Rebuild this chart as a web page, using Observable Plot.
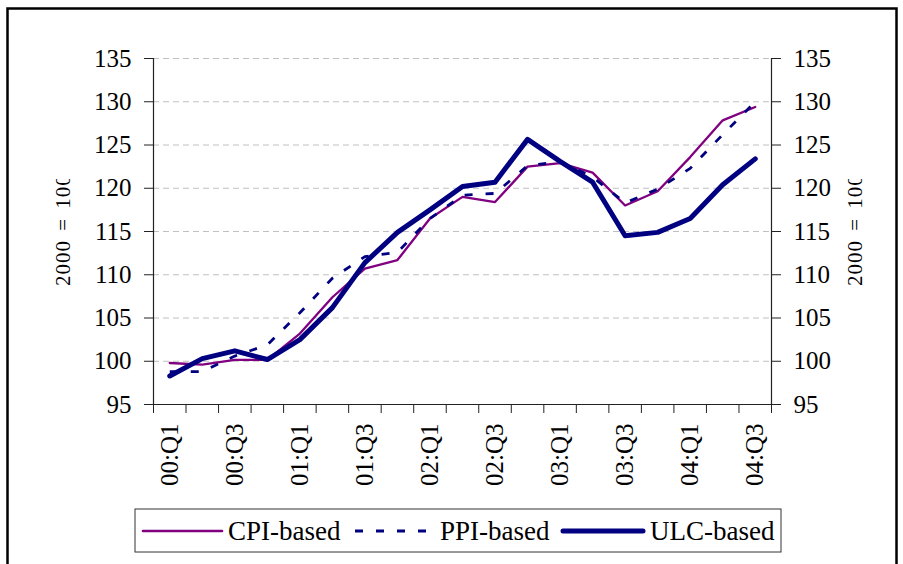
<!DOCTYPE html>
<html><head><meta charset="utf-8">
<script src="https://cdn.jsdelivr.net/npm/d3@7"></script>
<script src="https://cdn.jsdelivr.net/npm/@observablehq/plot@0.6"></script>
<style>
html,body{margin:0;padding:0;background:#fff;}
#chart{width:903px;height:564px;overflow:hidden;}
</style></head><body><div id="chart"></div>
<script>
const quarters = ["00:Q1","00:Q2","00:Q3","00:Q4","01:Q1","01:Q2","01:Q3","01:Q4","02:Q1","02:Q2","02:Q3","02:Q4","03:Q1","03:Q2","03:Q3","03:Q4","04:Q1","04:Q2","04:Q3"];
const cpi = [99.8, 99.6, 100.15, 100.15, 103.2, 107.4, 110.7, 111.7, 116.5, 119.0, 118.4, 122.5, 122.9, 121.8, 118.0, 119.65, 123.6, 127.85, 129.4];
const ppi = [98.8, 98.8, 100.6, 101.9, 105.6, 109.6, 112.1, 112.6, 116.5, 119.2, 119.4, 122.6, 123.1, 121.3, 118.3, 119.9, 122.3, 126.2, 130.0];
const ulc = [98.3, 100.3, 101.2, 100.2, 102.5, 106.2, 111.4, 114.9, 117.5, 120.2, 120.7, 125.65, 123.1, 120.7, 114.5, 114.9, 116.5, 120.4, 123.4];
const yTicks = [95, 100, 105, 110, 115, 120, 125, 130, 135];
const seriesNames = ["CPI-based", "PPI-based", "ULC-based"];
const seriesColors = ["#800080", "#000080", "#000080"];
const yTitle = "2000 = 100";

const toRows = (vals, s) => vals.map((v, i) => ({i, q: quarters[i], s, v}));
const cpiRows = toRows(cpi, seriesNames[0]);
const ppiRows = toRows(ppi, seriesNames[1]);
const ulcRows = toRows(ulc, seriesNames[2]);
const n = quarters.length;
const boundaries = d3.range(n + 1).map(i => i - 0.5);
const labelIdx = d3.range(0, n, 2);
const FONT = "'Liberation Serif', 'Times New Roman', serif";

const svg = Plot.plot({
  width: 903, height: 564,
  marginLeft: 153, marginRight: 132, marginTop: 58, marginBottom: 160,
  style: {fontFamily: FONT, fontSize: "25px", background: "white", color: "black"},
  x: {type: "linear", domain: [-0.5, n - 0.5]},
  y: {domain: [95, 135]},
  marks: [
    Plot.gridY(yTicks.filter(t => t > 95), {stroke: "#c0c0c0", strokeOpacity: 1, strokeDasharray: "6,4", strokeWidth: 1}),
    Plot.ruleY([95], {stroke: "#222", strokeWidth: 1.2}),
    Plot.ruleX([-0.5, n - 0.5], {stroke: "#222", strokeWidth: 1.2}),
    Plot.axisY(yTicks, {anchor: "left", tickSize: 9, tickPadding: 13, label: null, stroke: "#222"}),
    Plot.axisY(yTicks, {anchor: "right", tickSize: 9, tickPadding: 13, label: null, stroke: "#222"}),
    Plot.axisX(boundaries, {anchor: "bottom", tickSize: 9, tickFormat: () => "", label: null, stroke: "#222"}),
    Plot.axisX(labelIdx, {anchor: "bottom", tickSize: 0, tickRotate: -90, tickPadding: 19, tickFormat: i => quarters[i], label: null}),
    Plot.text([yTitle], {frameAnchor: "left", text: d => d, rotate: -90, textAnchor: "start", dx: -90, dy: 54.5, fontSize: 21, fontFamily: FONT, fill: "black"}),
    Plot.text([yTitle], {frameAnchor: "right", text: d => d, rotate: -90, textAnchor: "start", dx: 84, dy: 54.5, fontSize: 21, fontFamily: FONT, fill: "black"}),
    Plot.lineY(cpiRows, {x: "i", y: "v", stroke: seriesColors[0], strokeWidth: 2.3}),
    Plot.lineY(ppiRows, {x: "i", y: "v", stroke: seriesColors[1], strokeWidth: 2.8, strokeDasharray: "8,13", strokeLinecap: "butt"}),
    Plot.lineY(ulcRows, {x: "i", y: "v", stroke: seriesColors[2], strokeWidth: 5})
  ]
});

const s = d3.select(svg);
// outer frame
s.append("rect").attr("x", 7.5).attr("y", 8.5).attr("width", 889).attr("height", 700)
  .attr("fill", "none").attr("stroke", "black").attr("stroke-width", 2.5);

// the reference cuts the axis titles off at the top: wrap them in a clipped group
s.append("defs").append("clipPath").attr("id", "titleClip").append("rect")
  .attr("x", 0).attr("y", 179).attr("width", 903).attr("height", 300);
s.selectAll("text").filter(function() { return this.textContent === yTitle; })
  .style("letter-spacing", "1px").style("word-spacing", "3px")
  .each(function() {
    const g = this.parentNode;
    const wrap = document.createElementNS("http://www.w3.org/2000/svg", "g");
    wrap.setAttribute("clip-path", "url(#titleClip)");
    g.parentNode.insertBefore(wrap, g);
    wrap.appendChild(g);
  });

// legend
const lg = s.append("g").style("font-family", FONT).style("font-size", "27px").attr("text-anchor", "start");
lg.append("rect").attr("x", 135).attr("y", 509).attr("width", 646).attr("height", 43)
  .attr("fill", "white").attr("stroke", "#333").attr("stroke-width", 1);
const ly = 531;
const items = [
  {x1: 143, x2: 222, tx: 228, w: 2.6, dash: null},
  {x1: 355, x2: 428, tx: 440, w: 3, dash: "8,13"},
  {x1: 563, x2: 643, tx: 650, w: 5, dash: null}
];
items.forEach((it, k) => {
  const l = lg.append("line").attr("x1", it.x1).attr("x2", it.x2).attr("y1", ly).attr("y2", ly)
    .attr("stroke", seriesColors[k]).attr("stroke-width", it.w).attr("stroke-linecap", it.dash ? "butt" : "round");
  if (it.dash) l.attr("stroke-dasharray", it.dash);
  lg.append("text").attr("x", it.tx).attr("y", ly).attr("dy", "0.35em").attr("fill", "black").text(seriesNames[k]);
});

document.getElementById("chart").appendChild(svg);
</script>
</body></html>
